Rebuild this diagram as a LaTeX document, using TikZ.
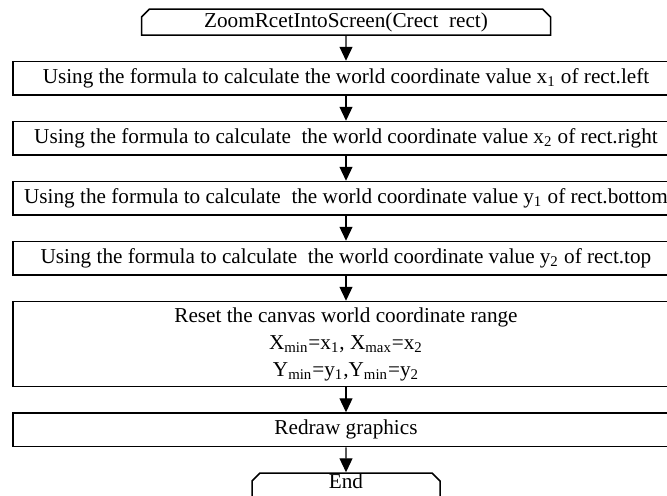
\documentclass[tikz,border=0pt]{standalone}
\usepackage{fontspec}
\setmainfont{Liberation Serif}
\usetikzlibrary{arrows.meta}
\usetikzlibrary{positioning}
\usetikzlibrary{shapes.misc}

\begin{document}
\begin{tikzpicture}[
	font=\fontsize{10.6pt}{13.5pt}\selectfont,
	node distance=12.5pt,
	procbox/.style={draw,line width=0.75pt,minimum width=333pt,minimum height=16.75pt,inner sep=0pt,align=center},
	termbox/.style={draw,line width=0.75pt,chamfered rectangle,chamfered rectangle corners={north west,north east},chamfered rectangle xsep=2pt,chamfered rectangle ysep=2pt,minimum height=13pt,inner sep=0pt,text height=7pt,text depth=2pt},
	flow/.style={line width=0.6pt,-{Triangle[length=7pt,width=6.5pt]}}]
	\useasboundingbox (0,0) rectangle (333.5pt,-247.5pt);
	\node[termbox,minimum width=204.5pt] (start) at (173pt,-11pt) {ZoomRcetIntoScreen(Crect \ rect)};
	\node[procbox,below=of start] (left) {Using the formula to calculate the world coordinate value x\textsubscript{1} of rect.left};
	\node[procbox,below=of left] (right) {Using the formula to calculate \ the world coordinate value x\textsubscript{2} of rect.right};
	\node[procbox,below=of right] (bottom) {Using the formula to calculate \ the world coordinate value y\textsubscript{1} of rect.bottom};
	\node[procbox,below=of bottom] (top) {Using the formula to calculate \ the world coordinate value y\textsubscript{2} of rect.top};
	\node[procbox,minimum height=42.5pt,below=of top] (reset) {Reset the canvas world coordinate range\\
		X\textsubscript{min}=x\textsubscript{1}, X\textsubscript{max}=x\textsubscript{2}\\
		Y\textsubscript{min}=y\textsubscript{1},Y\textsubscript{min}=y\textsubscript{2}};
	\node[procbox,below=of reset] (redraw) {Redraw graphics};
	\node[termbox,minimum width=94pt,text height=5.5pt,text depth=3.5pt,below=of redraw] (end) {End};
	\foreach \a/\b in {start/left,left/right,right/bottom,bottom/top,top/reset,reset/redraw,redraw/end} {
		\draw[flow] (\a) -- (\b);
	}
\end{tikzpicture}
\end{document}
